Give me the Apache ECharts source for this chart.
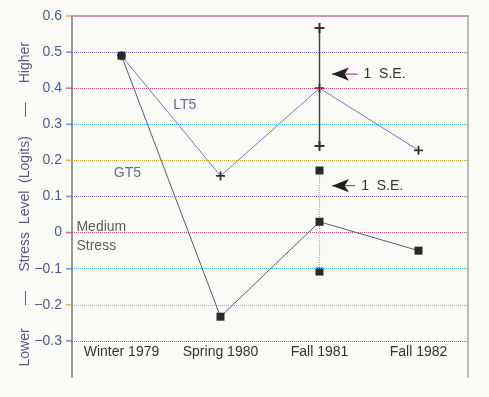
<!DOCTYPE html>
<html>
<head>
<meta charset="utf-8">
<script src="https://cdn.jsdelivr.net/npm/echarts@6/dist/echarts.min.js"></script>
<style>
  html, body { margin: 0; padding: 0; background: #fbfbf8; }
  #main { width: 489px; height: 397px; }
</style>
</head>
<body>
<div id="main"></div>
<script>
var periods = ['Winter 1979', 'Spring 1980', 'Fall 1981', 'Fall 1982'];
var lt5 = [0.49, 0.157, 0.40, 0.228];
var gt5 = [0.49, -0.233, 0.03, -0.05];
// one standard error, shown at Fall 1981
var lt5Err = [[2, 0.567], [2, 0.24]];
var gt5Err = [[2, 0.172], [2, -0.108]];
var yTicks = [-0.3, -0.2, -0.1, 0, 0.1, 0.2, 0.3, 0.4, 0.5, 0.6];
var seArrows = [
  [[2.126, 0.439], [2.384, 0.439]],
  [[2.126, 0.13], [2.36, 0.13]]
];
var notes = [
  { text: 'LT5', at: [0.64, 0.353] },
  { text: 'GT5', at: [0.06, 0.164] }
];
var midNote = { text: 'Medium\nStress', at: [-0.455, -0.01] };

var chart = echarts.init(document.getElementById('main'));
var font = 'Liberation Sans';
var plusPath = 'path://M4,0H6V4H10V6H6V10H4V6H0V4H4Z';
var nb = '\u00a0';
var gridCols = ['#9a6ee0', '#e0a030', '#40b8e0', '#c05080'];
var tickCols = ['#5a7ad0', '#e0a030', '#5a7ad0', '#c05080'];

var option;
option = {
  backgroundColor: '#fbfbf8',
  animation: false,
  grid: { left: 72, right: 21, top: 16, bottom: 20 },
  xAxis: [
    {
      type: 'category',
      data: periods,
      axisLine: { show: false, onZero: false },
      axisTick: { show: false },
      axisLabel: {
        inside: true, margin: 18, fontSize: 14, color: '#333',
        fontFamily: font
      },
      splitLine: { show: false }
    },
    {
      type: 'category',
      position: 'top',
      data: periods,
      axisLine: { show: true, onZero: false, lineStyle: { color: '#c87aa8', width: 1.5 } },
      axisTick: { show: false },
      axisLabel: { show: false }
    },
    { type: 'value', min: -0.5, max: 3.5, show: false }
  ],
  yAxis: [
    {
      type: 'value',
      min: -0.4,
      max: 0.6,
      interval: 0.1,
      name: 'Lower      \u2014     Stress  Level  (Logits)     \u2014     Higher' + nb + nb + nb + nb,
      nameLocation: 'middle',
      nameGap: 40,
      nameMoveOverlap: false,
      nameTextStyle: { fontSize: 14, color: '#5a5a80', fontFamily: font },
      axisLine: { show: true, onZero: false, lineStyle: { color: '#777', width: 1.5 } },
      axisTick: { show: false },
      axisLabel: {
        margin: 10, fontSize: 14, color: '#4a5a8a',
        fontFamily: font,
        formatter: function (v) {
          var r = Math.round(v * 10) / 10;
          if (r < -0.35) return '';
          if (r === 0) return '0';
          return (r < 0 ? '\u2212' : '') + Math.abs(r).toFixed(1);
        }
      },
      splitLine: { show: false }
    },
    {
      type: 'value',
      position: 'right',
      min: -0.4,
      max: 0.6,
      axisLine: { show: true, onZero: false, lineStyle: { color: '#bbb', width: 2 } },
      axisTick: { show: false },
      axisLabel: { show: false },
      splitLine: { show: false }
    }
  ],
  series: [
    {
      name: 'grid',
      type: 'line',
      data: [],
      markLine: {
        silent: true,
        symbol: 'none',
        label: { show: false },
        data: yTicks.filter(function (v) { return v < 0.6; }).map(function (v, i) {
          return {
            yAxis: v,
            lineStyle: { type: 'dotted', width: 1, color: gridCols[i % gridCols.length] }
          };
        })
      }
    },
    {
      // short tick marks left of the value axis
      name: 'ticks',
      type: 'scatter',
      xAxisIndex: 2,
      clip: false,
      silent: true,
      symbol: 'rect',
      symbolSize: [6, 1.6],
      data: yTicks.map(function (v, i) {
        return { value: [-0.53, v], itemStyle: { color: tickCols[i % tickCols.length] } };
      }),
      z: 7
    },
    {
      name: 'GT5 S.E.',
      type: 'line',
      data: gt5Err,
      symbol: 'rect',
      symbolSize: 8,
      itemStyle: { color: '#2a2a2a' },
      lineStyle: { color: '#aaa', width: 1.2, type: 'dotted' },
      z: 3
    },
    {
      name: 'LT5 S.E.',
      type: 'line',
      data: lt5Err,
      symbol: plusPath,
      symbolSize: 10,
      itemStyle: { color: '#333' },
      lineStyle: { color: '#444', width: 1.5 },
      z: 3
    },
    {
      name: 'LT5',
      type: 'line',
      data: lt5,
      symbol: plusPath,
      symbolSize: 9,
      itemStyle: { color: '#333' },
      lineStyle: { color: '#7c74c4', width: 1 },
      z: 4
    },
    {
      name: 'GT5',
      type: 'line',
      data: gt5,
      symbol: 'rect',
      symbolSize: 8,
      itemStyle: { color: '#2a2a2a' },
      lineStyle: { color: '#5a5a70', width: 1 },
      z: 5
    }
  ].concat(seArrows.map(function (a) {
    return {
      type: 'line',
      xAxisIndex: 2,
      data: [
        { value: a[0], symbol: 'arrow', symbolSize: [10, 17], symbolRotate: 90 },
        { value: a[1], symbol: 'none' }
      ],
      endLabel: {
        show: true, distance: 6, formatter: '1  S.E.',
        fontSize: 14, color: '#333', fontFamily: font
      },
      itemStyle: { color: '#222' },
      lineStyle: { color: '#b040c0', width: 1.2 },
      z: 6
    };
  })).concat([
    {
      type: 'scatter',
      xAxisIndex: 2,
      symbolSize: 0,
      data: notes.map(function (n) { return { value: n.at, name: n.text }; }),
      label: {
        show: true, position: 'inside', formatter: '{b}',
        fontSize: 14, color: '#3a4a7a', fontFamily: font
      }
    },
    {
      type: 'scatter',
      xAxisIndex: 2,
      symbolSize: 0,
      data: [{ value: midNote.at, name: midNote.text }],
      label: {
        show: true, position: 'right', distance: 0, formatter: '{b}',
        fontSize: 14, lineHeight: 19, color: '#333', fontFamily: font
      }
    }
  ])
};

chart.setOption(option);
</script>
</body>
</html>
